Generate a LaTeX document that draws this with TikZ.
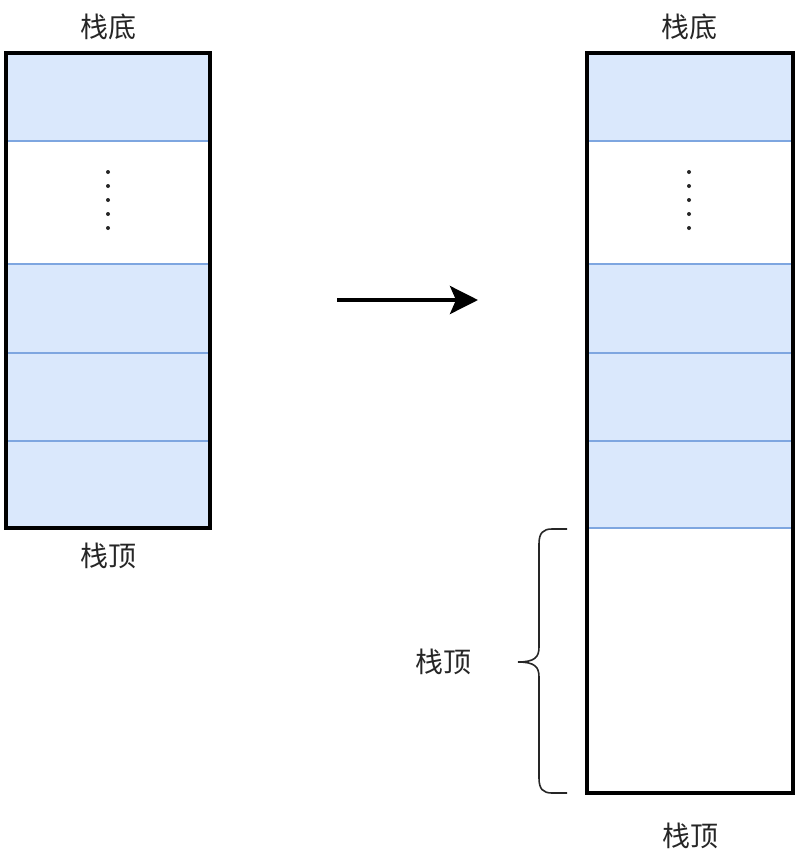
\documentclass[tikz,border=0pt]{standalone}
\usepackage{fontspec}
\newfontfamily\cjk{Noto Sans CJK SC}
\usetikzlibrary{arrows.meta}
\definecolor{cellfill}{HTML}{DAE8FC}
\definecolor{cellline}{HTML}{7EA6E0}
\begin{document}
\begin{tikzpicture}[x=1pt,y=-1pt,
  cellbox/.style={rectangle,draw=cellline,line width=1.2pt,fill=cellfill,anchor=north west,inner sep=0pt,outer sep=0pt},
  emptycell/.style={cellbox,fill=white},
  frame/.style={draw=black,line width=4.5pt,line join=miter},
  lbl/.style={font=\cjk\fontsize{28}{32}\selectfont,text=black!85,inner sep=0pt},
  dotty/.style={circle,fill=black!85,inner sep=0pt,minimum size=4pt},
  bracestyle/.style={line width=1.6pt,black!85}]
\useasboundingbox (0,0) rectangle (800,865);
% left stack
\node[cellbox,minimum width=204pt,minimum height=88pt] (l1) at (6,53) {};
\node[emptycell,minimum width=204pt,minimum height=123pt] (l2) at (6,141) {};
\node[cellbox,minimum width=204pt,minimum height=89pt] (l3) at (6,264) {};
\node[cellbox,minimum width=204pt,minimum height=88pt] (l4) at (6,353) {};
\node[cellbox,minimum width=204pt,minimum height=87pt] (l5) at (6,441) {};
\draw[frame] (l1.north west) rectangle (l5.south east);
\foreach \i/\y in {1/172,2/186,3/200,4/214,5/228} \node[dotty] (ld\i) at (108,\y) {};
\node[lbl] (ltop) at (108,27) {栈底};
\node[lbl] (lbot) at (108,556) {栈顶};
% right stack
\node[cellbox,minimum width=206pt,minimum height=88pt] (r1) at (587,53) {};
\node[emptycell,minimum width=206pt,minimum height=123pt] (r2) at (587,141) {};
\node[cellbox,minimum width=206pt,minimum height=89pt] (r3) at (587,264) {};
\node[cellbox,minimum width=206pt,minimum height=88pt] (r4) at (587,353) {};
\node[cellbox,minimum width=206pt,minimum height=87pt] (r5) at (587,441) {};
\node[emptycell,draw=none,minimum width=206pt,minimum height=265pt] (r6) at (587,528) {};
\draw[cellline,line width=1.2pt] (r5.south west) -- (r5.south east);
\draw[frame] (r1.north west) rectangle (r6.south east);
\foreach \i/\y in {1/172,2/186,3/200,4/214,5/228} \node[dotty] (rd\i) at (689,\y) {};
\node[lbl] (rtop) at (689,27) {栈底};
\node[lbl] (rbot) at (690,836) {栈顶};
% arrow
\coordinate (as) at (337,300);
\coordinate (ae) at (478,300);
\draw[line width=3.8pt,-{Stealth[length=28pt,width=28pt,inset=6pt]}] (as) -- (ae);
% brace
\coordinate (bt) at (567,529);
\coordinate (bb) at (567,793);
\coordinate (btip) at (518,662);
\draw[bracestyle] (bt) -- (552,529) .. controls (543,529) and (539,533) .. (539,544)
  -- (539,647) .. controls (539,657) and (535,662) .. (btip);
\draw[bracestyle] (bb) -- (552,793) .. controls (543,793) and (539,789) .. (539,778)
  -- (539,677) .. controls (539,667) and (535,662) .. (btip);
\node[lbl] (blabel) at (443,662) {栈顶};
\end{tikzpicture}
\end{document}
